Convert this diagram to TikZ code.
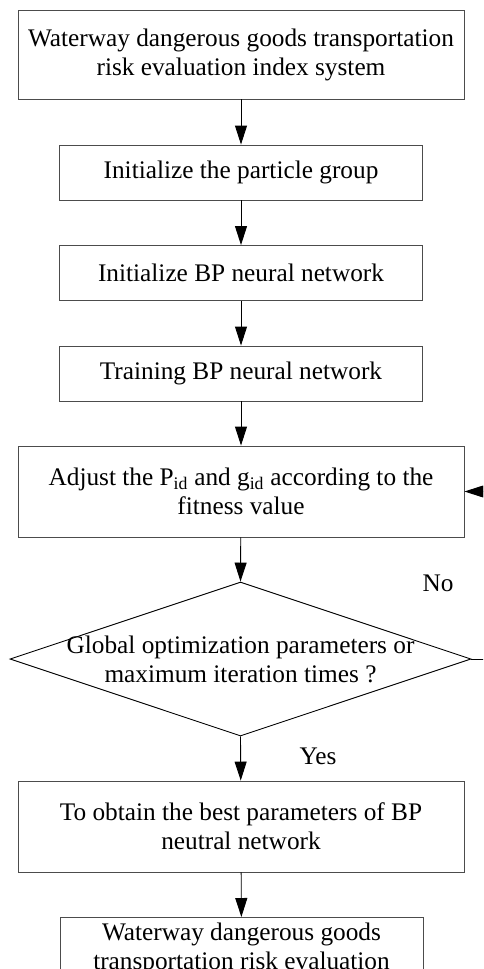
\documentclass[tikz,border=0pt]{standalone}
\usepackage{fontspec}
\setmainfont{Liberation Serif}
\usetikzlibrary{shapes.geometric,arrows.meta}
\begin{document}
\begin{tikzpicture}[x=1pt,y=-1pt,
  txt/.style={font=\fontsize{25.3}{29}\selectfont},
  box/.style={txt, draw=black!70, line width=0.9pt, align=center, inner sep=0pt},
  arr/.style={draw=black, line width=0.9pt, -{Triangle[length=19pt,width=12pt]}},
  lbl/.style={txt, inner sep=0pt}]
\useasboundingbox (0,0) rectangle (483,969);
\clip (0,0) rectangle (483,969);
\node[box, minimum width=446pt, minimum height=89pt] (top) at (241,54.5)
  {Waterway dangerous goods transportation\\risk evaluation index system};
\node[box, minimum width=363pt, minimum height=55pt] (b2) at (241,172.5)
  {Initialize the particle group};
\node[box, minimum width=363pt, minimum height=55pt] (b3) at (241,273)
  {Initialize BP neural network};
\node[box, minimum width=363pt, minimum height=55pt] (b4) at (241,373.5)
  {Training BP neural network};
\node[box, minimum width=446pt, minimum height=91pt] (b5) at (241,491.5)
  {Adjust the P\textsubscript{id} and g\textsubscript{id} according to the\\fitness value};
\node[draw=black, line width=0.9pt, diamond, inner sep=0pt, minimum width=461pt, minimum height=154pt] (dia) at (240.5,659) {};
\node[lbl, align=center] (diat) at (240.5,659)
  {Global optimization parameters or\\maximum iteration times ?};
\node[box, minimum width=446pt, minimum height=91pt] (b7) at (241,826.5)
  {To obtain the best parameters of BP\\neutral network};
\node[box, anchor=north, minimum width=363pt, inner ysep=5pt] (b8) at (241.5,917)
  {Waterway dangerous goods\\transportation risk evaluation};
\node[lbl] (no) at (438,583) {No};
\node[lbl] (yes) at (318,756) {Yes};
\draw[arr] (top) -- (b2);
\draw[arr] (b2) -- (b3);
\draw[arr] (b3) -- (b4);
\draw[arr] (b4) -- (b5);
\draw[arr] (b5) -- (dia.north);
\draw[arr] (dia.south) -- (b7);
\draw[arr] (b7) -- (b8);
\draw[arr] (dia.east) -- ++(40,0) |- (b5.east);
\end{tikzpicture}
\end{document}
